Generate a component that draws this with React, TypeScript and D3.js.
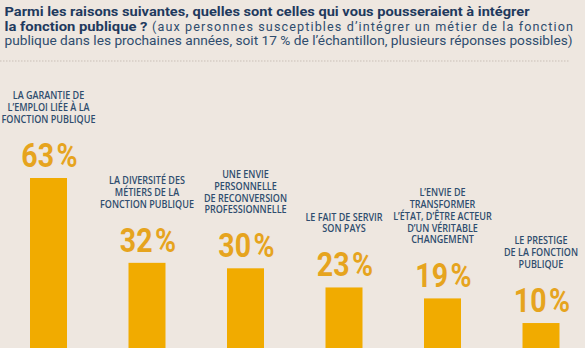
import React from 'react';
import * as d3 from 'd3';

const W = 585;
const H = 348;

const categories = ['garantie', 'diversite', 'reconversion', 'servir', 'transformer', 'prestige'];
const categoryLines: string[][] = [
  ['LA GARANTIE DE', 'L’EMPLOI LIÉE À LA', 'FONCTION PUBLIQUE'],
  ['LA DIVERSITÉ DES', 'MÉTIERS DE LA', 'FONCTION PUBLIQUE'],
  ['UNE ENVIE', 'PERSONNELLE', 'DE RECONVERSION', 'PROFESSIONNELLE'],
  ['LE FAIT DE SERVIR', 'SON PAYS'],
  ['L’ENVIE DE', 'TRANSFORMER', 'L’ÉTAT, D’ÊTRE ACTEUR', 'D’UN VÉRITABLE', 'CHANGEMENT'],
  ['LE PRESTIGE', 'DE LA FONCTION', 'PUBLIQUE'],
];
const values = [63, 32, 30, 23, 19, 10];

const titleBold1 = 'Parmi les raisons suivantes, quelles sont celles qui vous pousseraient à intégrer';
const titleBold2 = 'la fonction publique ?';
const titleReg2 = '(aux personnes susceptibles d’intégrer un métier de la fonction';
const titleReg3 = 'publique dans les prochaines années, soit 17 % de l’échantillon, plusieurs réponses possibles)';

const BG = '#eee7e0';
const NAVY = '#1f3a5e';
const LABEL = '#2f4d6e';
const BAR = '#f1ab00';
const VALUE = '#e6a41e';

export default function App() {
  const x = d3.scalePoint<string>().domain(categories).range([48.5, 541]);
  const y = d3.scaleLinear().domain([0, 63]).range([350.4, 178]);
  const barW = 37;
  const lineH = 11.8;

  return (
    <svg
      width={W}
      height={H}
      viewBox={`0 0 ${W} ${H}`}
      style={{ position: 'absolute', left: 0, top: 0, display: 'block' }}
    >
      <rect x={0} y={0} width={W} height={H} fill={BG} />

      {/* Title */}
      <g fontFamily="Roboto, sans-serif">
        <text x={4.5} y={15.8} fontSize={12.8} fontWeight={700} fill={NAVY}
          textLength={525} lengthAdjust="spacingAndGlyphs">{titleBold1}</text>
        <text x={4.5} y={30.6} fontSize={12.8} fontWeight={700} fill={NAVY}
          textLength={143} lengthAdjust="spacingAndGlyphs">{titleBold2}</text>
        <text x={152} y={30.6} fontSize={12.6} fontWeight={400} fill={LABEL}
          textLength={421} lengthAdjust="spacing">{titleReg2}</text>
        <text x={4.5} y={45} fontSize={12.6} fontWeight={400} fill={LABEL}
          textLength={568} lengthAdjust="spacingAndGlyphs">{titleReg3}</text>
      </g>

      <line x1={0} x2={570} y1={61} y2={61} stroke="#c9bfb7" strokeWidth={1}
        strokeDasharray="1.5,1.5" />

      {categories.map((c, i) => {
        const cx = x(c) as number;
        const top = y(values[i]);
        const valueBase = top - 11;
        const lastBase = valueBase - 24 - 20;
        const lines = categoryLines[i];
        return (
          <g key={c}>
            <rect x={cx - barW / 2} y={top} width={barW} height={y(0) - top} fill={BAR} />
            <g transform={`translate(${cx + 1},${valueBase}) scale(0.84,1)`}>
              <text x={0} y={0} textAnchor="middle" fontFamily="Roboto, sans-serif"
                fontWeight={700} fontSize={34} fill={VALUE}>
                {String(values[i])}
                <tspan dx={3}>%</tspan>
              </text>
            </g>
            <g transform={`translate(${cx},${lastBase}) scale(0.87,1)`}>
              {lines.map((l, j) => (
                <text key={j} x={0} y={-(lines.length - 1 - j) * lineH} textAnchor="middle"
                  fontFamily="'Open Sans', sans-serif" fontWeight={600} fontSize={10.4}
                  fill={LABEL}>{l}</text>
              ))}
            </g>
          </g>
        );
      })}
    </svg>
  );
}
